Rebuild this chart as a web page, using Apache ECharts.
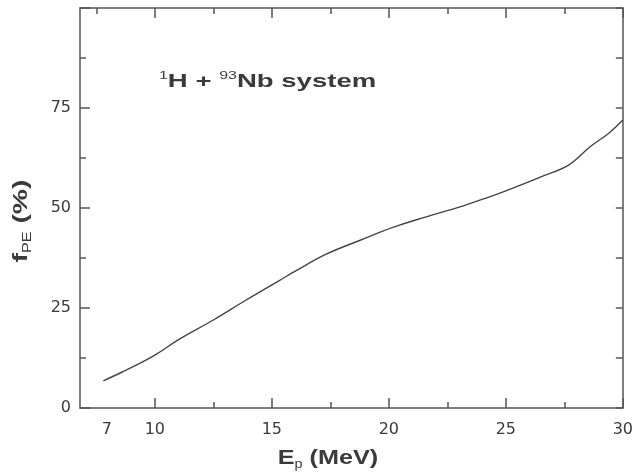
<!DOCTYPE html>
<html>
<head>
<meta charset="utf-8">
<script src="https://cdn.jsdelivr.net/npm/echarts@6/dist/echarts.min.js"></script>
<style>
  html, body { margin: 0; padding: 0; background: #fff; }
  #chart { width: 636px; height: 472px; }
</style>
</head>
<body>
<div id="chart"></div>
<script>
// proton energy (MeV) and pre-equilibrium fraction (%)
const energy = [7.8, 8.6, 9.5, 10, 11.1, 12.5, 13.9, 15.3, 16.0, 17.3, 18.8, 20.2, 21.6, 23.0, 24.3, 25.0, 26.5, 27.7, 28.6, 29.4, 30];
const fraction = [6.8, 9.0, 11.6, 13.2, 17.4, 22.0, 27.0, 31.8, 34.2, 38.4, 42.0, 45.2, 47.8, 50.2, 52.8, 54.3, 57.8, 60.8, 65.3, 68.7, 72.0];

// tick labels
const xLabelValues = [7.95, 10, 15, 20, 25, 30];
const xLabelText = { 7.95: '7' };
const xMajorTicks = [10, 15, 20, 25, 30];
const xMinorTicks = [12.5, 17.5, 22.5, 27.5];
const xTopMinorTicks = [7.5, 12.5, 17.5, 22.5, 27.5];
const yLabelValues = [0, 25, 50, 75];

const X_MIN = 6.8, X_MAX = 30;
const lineColor = '#555';
const textColor = '#3a3a3a';
const font = '"Liberation Sans", Arial, sans-serif';
const tickFont = '"DejaVu Sans", sans-serif';

const chart = echarts.init(document.getElementById('chart'));

function tickAxis(position, ticks, len, showLine) {
  return {
    type: 'value',
    position: position,
    min: X_MIN,
    max: X_MAX,
    axisLine: { show: showLine, lineStyle: { color: lineColor, width: 1.5 } },
    axisTick: { show: true, inside: true, length: len, customValues: ticks, lineStyle: { color: lineColor, width: 1.5 } },
    axisLabel: { show: false },
    splitLine: { show: false }
  };
}

const option = {
  backgroundColor: '#fff',
  animation: false,
  grid: { left: 80, right: 13, top: 8, bottom: 64 },
  xAxis: [
    {
      type: 'value',
      position: 'bottom',
      min: X_MIN,
      max: X_MAX,
      axisLine: { show: true, lineStyle: { color: lineColor, width: 1.5 } },
      axisTick: { show: true, inside: true, length: 10, customValues: xMajorTicks, lineStyle: { color: lineColor, width: 1.5 } },
      axisLabel: {
        customValues: xLabelValues,
        margin: 14,
        color: textColor,
        fontSize: 16,
        fontFamily: tickFont,
        formatter: v => xLabelText[v] || String(v)
      },
      splitLine: { show: false }
    },
    tickAxis('bottom', xMinorTicks, 6, false),
    tickAxis('top', xMajorTicks, 10, true),
    tickAxis('top', xTopMinorTicks, 6, false)
  ],
  yAxis: [
    {
      type: 'value',
      position: 'left',
      min: 0,
      max: 100,
      interval: 25,
      axisLine: { show: true, lineStyle: { color: lineColor, width: 1.5 } },
      axisTick: { show: true, inside: true, length: 10, lineStyle: { color: lineColor, width: 1.5 } },
      minorTick: { show: true, splitNumber: 2, length: 6, lineStyle: { color: lineColor, width: 1.5 } },
      axisLabel: {
        customValues: yLabelValues,
        margin: 9,
        color: textColor,
        fontSize: 16,
        fontFamily: tickFont
      },
      splitLine: { show: false }
    },
    {
      type: 'value',
      position: 'right',
      min: 0,
      max: 100,
      interval: 25,
      axisLine: { show: true, lineStyle: { color: lineColor, width: 1.5 } },
      axisTick: { show: true, inside: true, length: 7, lineStyle: { color: lineColor, width: 1.5 } },
      minorTick: { show: true, splitNumber: 2, length: 7, lineStyle: { color: lineColor, width: 1.5 } },
      axisLabel: { show: false },
      splitLine: { show: false }
    }
  ],
  graphic: [
    {
      type: 'text',
      x: 159,
      y: 70,
      scaleX: 1.45,
      style: {
        text: '{sup|1}{b|H + }{sup|93}{b|Nb system}',
        fill: textColor,
        rich: {
          b: { fontSize: 19, fontWeight: 'bold', fontFamily: font, fill: textColor, lineHeight: 24 },
          sup: { fontSize: 11, fontFamily: font, fill: textColor, verticalAlign: 'top', lineHeight: 24 }
        }
      }
    },
    {
      type: 'text',
      x: 21,
      y: 221,
      rotation: Math.PI / 2,
      scaleX: 1.35,
      style: {
        text: '{b|f}{sub|PE}{b| (%)}',
        align: 'center',
        verticalAlign: 'middle',
        fill: textColor,
        rich: {
          b: { fontSize: 21, fontWeight: 'bold', fontFamily: font, fill: textColor, lineHeight: 26 },
          sub: { fontSize: 12, fontFamily: font, fill: textColor, verticalAlign: 'bottom', lineHeight: 24 }
        }
      }
    },
    {
      type: 'text',
      x: 328,
      y: 458,
      scaleX: 1.2,
      style: {
        text: '{b|E}{sub|p}{b| (MeV)}',
        align: 'center',
        verticalAlign: 'middle',
        fill: textColor,
        rich: {
          b: { fontSize: 21, fontWeight: 'bold', fontFamily: font, fill: textColor, lineHeight: 26 },
          sub: { fontSize: 12, fontFamily: font, fill: textColor, verticalAlign: 'bottom', lineHeight: 22 }
        }
      }
    }
  ],
  series: [
    {
      type: 'line',
      xAxisIndex: 0,
      yAxisIndex: 0,
      data: energy.map((e, i) => [e, fraction[i]]),
      smooth: 0.4,
      showSymbol: false,
      lineStyle: { color: '#444', width: 1.4 }
    }
  ]
};

chart.setOption(option);
</script>
</body>
</html>
